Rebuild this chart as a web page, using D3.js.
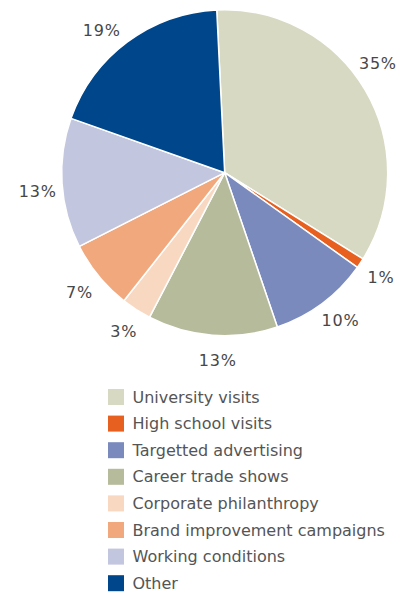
<!DOCTYPE html>
<html>
<head>
<meta charset="utf-8">
<script src="https://cdn.jsdelivr.net/npm/d3@7"></script>
<style>
  html, body { margin: 0; padding: 0; background: #ffffff; }
  svg { display: block; }
  text { font-family: "DejaVu Sans", "Liberation Sans", sans-serif; }
</style>
</head>
<body>
<svg id="chart" width="406" height="593"></svg>
<script>
// ---- data ----
const categories = [
  "University visits",
  "High school visits",
  "Targetted advertising",
  "Career trade shows",
  "Corporate philanthropy",
  "Brand improvement campaigns",
  "Working conditions",
  "Other"
];
const shares = [35, 1, 10, 13, 3, 7, 13, 19];
const percentLabels = ["35%", "1%", "10%", "13%", "3%", "7%", "13%", "19%"];
const sliceColors = ["#d8d9c3", "#e8601f", "#7b8abd", "#b6bb9b", "#f9d8c1", "#f2a87d", "#c2c6df", "#00468b"];

// ---- layout ----
const svg = d3.select("#chart");
const cx = 224.7, cy = 172.7, radius = 163;
const startRad = -2.8 * Math.PI / 180;

const pie = d3.pie().sort(null).value(d => d)
  .startAngle(startRad).endAngle(startRad + 2 * Math.PI);
const arcs = pie(shares);
const arc = d3.arc().innerRadius(0).outerRadius(radius);

const g = svg.append("g").attr("transform", `translate(${cx},${cy})`);
g.selectAll("path.slice").data(arcs).enter().append("path")
  .attr("class", "slice")
  .attr("d", arc)
  .attr("fill", (d, i) => sliceColors[i])
  .attr("stroke", "#ffffff")
  .attr("stroke-width", 1.5)
  .attr("stroke-linejoin", "round");

// percentage labels outside (small angular nudges to mimic the original placement)
const labelR = 188;
const labelNudgeDeg = [-5, 0, -1.4, -2.2, -0.4, -0.1, -2.1, -4.2];
const labelAngle = (d, i) => (d.startAngle + d.endAngle) / 2 + labelNudgeDeg[i] * Math.PI / 180;
g.selectAll("text.pct").data(arcs).enter().append("text")
  .attr("class", "pct")
  .attr("x", (d, i) => labelR * Math.sin(labelAngle(d, i)))
  .attr("y", (d, i) => -labelR * Math.cos(labelAngle(d, i)))
  .attr("text-anchor", "middle")
  .attr("dominant-baseline", "central")
  .attr("font-size", 16)
  .attr("letter-spacing", 0.8)
  .attr("fill", "#474747")
  .text((d, i) => percentLabels[i]);

// legend
const legendX = 108, legendY = 389, rowH = 26.6, box = 16;
const legend = svg.append("g").attr("transform", `translate(${legendX},${legendY})`);
const rows = legend.selectAll("g.row").data(categories).enter().append("g")
  .attr("class", "row")
  .attr("transform", (d, i) => `translate(0,${i * rowH})`);
rows.append("rect")
  .attr("width", box).attr("height", box)
  .attr("fill", (d, i) => sliceColors[i]);
rows.append("text")
  .attr("x", 24.5)
  .attr("y", box / 2)
  .attr("dominant-baseline", "central")
  .attr("font-size", 16)
  .attr("fill", "#555555")
  .text(d => d);
</script>
</body>
</html>
